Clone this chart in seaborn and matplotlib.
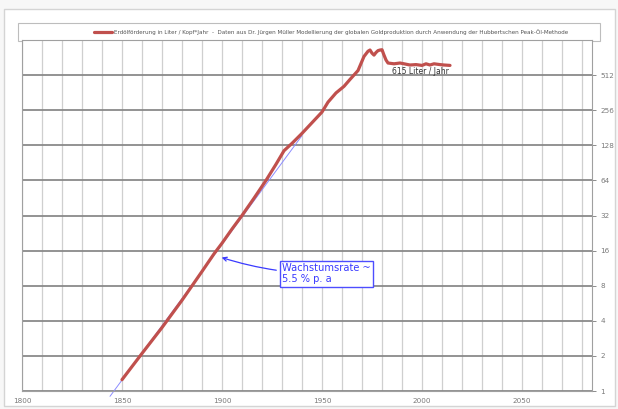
import matplotlib
matplotlib.use("Agg")
import matplotlib.pyplot as plt
from matplotlib.patches import Rectangle
from matplotlib.ticker import FixedLocator, MultipleLocator, NullFormatter
import pandas as pd
import seaborn as sns

# Erdölförderung pro Kopf und Jahr (Liter)
years = [1850, 1860, 1870, 1880, 1890, 1896, 1900, 1905, 1910, 1916,
         1922, 1927, 1931, 1935, 1940, 1945, 1950, 1953, 1957, 1961,
         1964, 1968, 1971, 1973, 1974, 1975, 1976, 1977, 1978, 1979,
         1980, 1981, 1982, 1983, 1986, 1989, 1991, 1994, 1997, 2000,
         2002, 2004, 2006, 2009, 2011, 2014]
liters = [1.25, 2.1, 3.5, 6.0, 10.6, 15, 18.5, 24.5, 32, 45,
          64, 88, 115, 133, 162, 200, 247, 300, 360, 410,
          470, 560, 740, 820, 840, 790, 760, 800, 830, 840,
          845, 760, 690, 650, 640, 650, 640, 625, 630, 620,
          640, 625, 640, 630, 625, 620]

# exponentieller Trend ~5.5 % p. a. (dünne blaue Linie)
trend_years = [1844, 1940]
trend_values = [0.9, 155]

y_ticks = [1, 2, 4, 8, 16, 32, 64, 128, 256, 512]
x_ticks = [1800, 1850, 1900, 1950, 2000, 2050]

legend_label = ("Erdölförderung in Liter / Kopf*Jahr  -  Daten aus Dr. Jürgen Müller "
                "Modellierung der globalen Goldproduktion durch Anwendung der "
                "Hubbertschen Peak-Öl-Methode")

df = pd.DataFrame({"Jahr": years, "Liter": liters})

sns.set_style("white")
plt.rcParams['font.family'] = ['DejaVu Sans']

W, H = 618, 409
fig = plt.figure(figsize=(6.18, 4.09), dpi=100)
fig.patch.set_facecolor("#f7f7f7")

# äußerer Rahmen
fig.patches.append(Rectangle((4 / W, 1 - 406 / H), 611 / W, 397 / H,
                             transform=fig.transFigure, facecolor="white",
                             edgecolor="#d4d4d4", lw=1, zorder=-2))

ax = fig.add_axes([22 / W, 1 - 391 / H, 570 / W, 351 / H])
ax.set_facecolor("white")

ax.plot(trend_years, trend_values, color="#8c8cff", lw=0.7, zorder=2, clip_on=False)
sns.lineplot(data=df, x="Jahr", y="Liter", color="#c0504d", lw=2.3, ax=ax,
             label=legend_label, legend=False, zorder=3)

ax.set_yscale("log", base=2)
ax.set_ylim(1, 1024)
ax.set_xlim(1800, 2085)

ax.yaxis.set_major_locator(FixedLocator(y_ticks))
ax.yaxis.set_minor_locator(FixedLocator([]))
ax.set_yticklabels([str(t) for t in y_ticks])
ax.yaxis.tick_right()
ax.xaxis.set_major_locator(FixedLocator(x_ticks))
ax.xaxis.set_minor_locator(MultipleLocator(10))
ax.xaxis.set_minor_formatter(NullFormatter())

ax.grid(axis="x", which="both", color="#cfcfcf", lw=0.9)
ax.grid(axis="y", which="major", color="#8a8a8a", lw=1.3)
ax.tick_params(axis="both", which="major", labelsize=5.2, colors="#7a7a7a",
               length=3, width=0.6, pad=3)
ax.tick_params(axis="x", which="minor", length=0)
ax.tick_params(axis="x", which="major", length=0, pad=5)
ax.set_xlabel("")
ax.set_ylabel("")
for s in ax.spines.values():
    s.set_color("#a0a0a0")
    s.set_linewidth(0.8)

ax.text(1985, 545, "615 Liter / Jahr", fontsize=5.5, color="#333333",
        ha="left", va="center", zorder=4)

ax.annotate("Wachstumsrate ~\n5.5 % p. a", xy=(1898.5, 14.2), xytext=(1930, 10.1),
            fontsize=7.1, color="#3a3aff", ha="left", va="center", linespacing=1.1,
            bbox=dict(boxstyle="square,pad=0.25", fc="white", ec="#4d4dff", lw=1),
            arrowprops=dict(arrowstyle="->", color="#3a3aff", lw=0.9,
                            connectionstyle="arc3,rad=-0.08"), zorder=5)

# Legendenkasten oben
fig.patches.append(Rectangle((18 / W, 1 - 41 / H), 582 / W, 18 / H,
                             transform=fig.transFigure, facecolor="white",
                             edgecolor="#bdbdbd", lw=0.8, zorder=-1))
handles, labels = ax.get_legend_handles_labels()
fig.legend(handles, labels, loc="center", bbox_to_anchor=(331 / W, 1 - 32 / H),
           frameon=False, fontsize=4.1, handlelength=3.2, handletextpad=0.3,
           labelcolor="#555555")

fig.savefig("out.png", dpi=100, facecolor=fig.get_facecolor())
